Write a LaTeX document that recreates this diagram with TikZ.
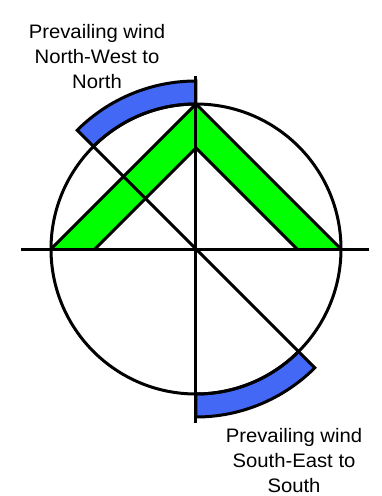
\documentclass[tikz,border=0pt]{standalone}
\usepackage{fontspec}
\setmainfont[FakeStretch=1.04]{Liberation Sans}
\definecolor{vento}{RGB}{66,104,245}
\definecolor{verde}{RGB}{0,255,0}
\begin{document}
\begin{tikzpicture}[x=1pt,y=1pt,line width=3pt,
    etichetta/.style={align=center,inner sep=0pt,font=\fontsize{19.5}{25}\selectfont}]
        \useasboundingbox(-196,-247)rectangle(186,249);
        \coordinate(O)at(0,0);
        %bande verdi
            \fill[verde](-145,0)--(0,145)--(145,0)--(101,0)--(0,101)--(-101,0)--cycle;
            \draw(-145,0)--(0,145)--(145,0);
            \draw(-101,0)--(0,101)--(101,0);
        %vento nord-ovest
            \draw[fill=vento](90:145)arc[start angle=90,end angle=135,radius=145]--(135:168)arc[start angle=135,end angle=90,radius=168]--cycle;
        %vento sud-est
            \draw[fill=vento](-90:145)arc[start angle=-90,end angle=-45,radius=145]--(-45:168)arc[start angle=-45,end angle=-90,radius=168]--cycle;
        %cerchio
            \draw(O)circle[radius=145];
        %diagonale
            \draw(135:145)--(-45:145);
        %assi
            \draw(O)--++(-175,0);
            \draw(O)--++(173,0);
            \draw(O)--++(0,173);
            \draw(O)--++(0,-174);
        %testi
            \node[etichetta](nordovest)at(-99,192){Prevailing wind\\North-West to\\North};
            \node[etichetta](sudest)at(98,-212){Prevailing wind\\South-East to\\South};
\end{tikzpicture}
\end{document}
